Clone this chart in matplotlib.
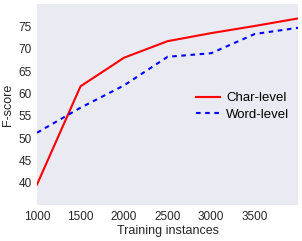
import matplotlib
matplotlib.use("Agg")
import matplotlib.pyplot as plt

instances = [1000, 1500, 2000, 2500, 3000, 3500, 4000]
char_level = [39.6, 61.6, 68.0, 71.7, 73.5, 75.1, 76.8]
word_level = [51.2, 56.8, 61.8, 68.2, 69.0, 73.3, 74.7]
xticks = [1000, 1500, 2000, 2500, 3000, 3500]
yticks = [40, 45, 50, 55, 60, 65, 70, 75]

plt.rcParams['font.family'] = ['Liberation Sans', 'DejaVu Sans']
fig = plt.figure(figsize=(3.02, 2.41), dpi=100)
ax = fig.add_axes([0.1225, 0.149, 0.865, 0.834])
ax.set_facecolor('#EAEAF2')
for s in ax.spines.values():
    s.set_visible(False)
ax.plot(instances, char_level, color='red', lw=1.5, label='Char-level')
ax.plot(instances, word_level, color='blue', lw=1.5, ls='--', dashes=(2.2, 2.2), label='Word-level')
ax.set_xlim(1000, 4000)
ax.set_ylim(35, 80)
ax.set_xticks(xticks)
ax.set_yticks(yticks)
ax.tick_params(length=0, labelsize=8.5, colors='#262626', pad=4)
ax.set_xlabel('Training instances', fontsize=9, color='#262626', labelpad=2)
ax.set_ylabel('F-score', fontsize=9, color='#262626', labelpad=3)
ax.legend(loc='upper left', bbox_to_anchor=(196 / 302, 1 - 92 / 241), bbox_transform=fig.transFigure,
          frameon=False, fontsize=9.5, borderpad=0,
          handlelength=1.8, handletextpad=0.5, labelspacing=0.35, borderaxespad=0)
fig.savefig('out.png', dpi=100)
